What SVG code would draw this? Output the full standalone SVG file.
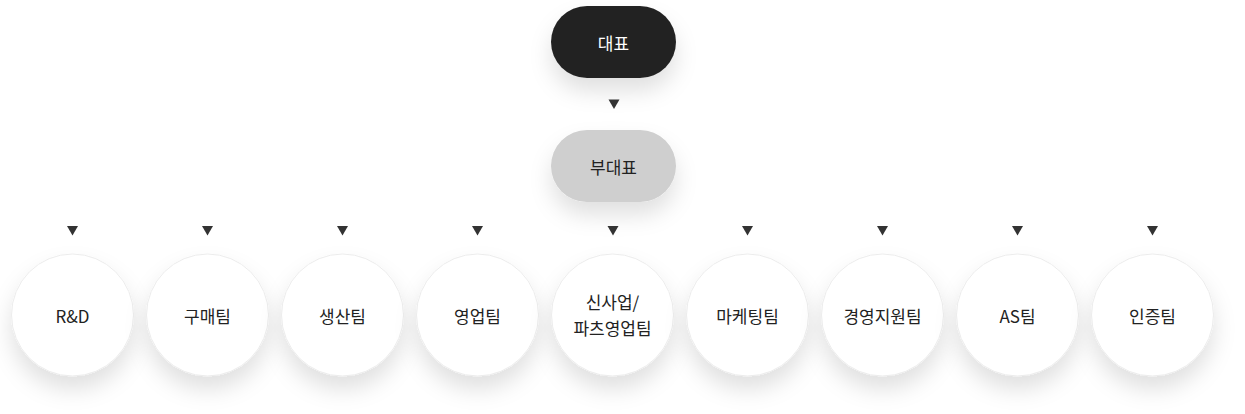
<svg xmlns="http://www.w3.org/2000/svg" width="1245" height="414" viewBox="0 0 1245 414">
<defs>
<filter id="sh" x="-50%" y="-50%" width="200%" height="230%">
<feDropShadow dx="0" dy="13" stdDeviation="11" flood-color="#000" flood-opacity="0.12"/>
</filter>
<style>
text{font-family:"Noto Sans CJK KR","Noto Sans",sans-serif;font-size:17px;font-weight:400;fill:#222;text-anchor:middle;dominant-baseline:central}
.c{fill:#fff;stroke:#ececec;stroke-width:1;filter:url(#sh)}
.a{fill:#333}
</style>
</defs>
<rect width="1245" height="414" fill="#fff"/>
<g id="ceo"><rect x="551" y="6" width="125" height="72" rx="36" fill="#242424" filter="url(#sh)"/><text x="613.5" y="42" style="fill:#fff">대표</text></g>
<g id="vice"><rect x="551" y="130" width="125" height="72" rx="36" fill="#cfcfcf" filter="url(#sh)"/><text x="613.5" y="166">부대표</text></g>
<g id="connectors">
<path class="a" d="M608.5 99.5h11l-5.5 9.5z"/>
<path class="a" d="M67 226h11l-5.5 9.5z"/>
<path class="a" d="M202 226h11l-5.5 9.5z"/>
<path class="a" d="M337 226h11l-5.5 9.5z"/>
<path class="a" d="M472 226h11l-5.5 9.5z"/>
<path class="a" d="M607.5 226h11l-5.5 9.5z"/>
<path class="a" d="M742 226h11l-5.5 9.5z"/>
<path class="a" d="M877 226h11l-5.5 9.5z"/>
<path class="a" d="M1012 226h11l-5.5 9.5z"/>
<path class="a" d="M1147 226h11l-5.5 9.5z"/>
</g>
<g id="rd"><circle class="c" cx="72.5" cy="315" r="61"/><text x="72.5" y="315">R&amp;D</text></g>
<g id="purchase"><circle class="c" cx="207.5" cy="315" r="61"/><text x="207.5" y="315">구매팀</text></g>
<g id="production"><circle class="c" cx="342.5" cy="315" r="61"/><text x="342.5" y="315">생산팀</text></g>
<g id="sales"><circle class="c" cx="477.5" cy="315" r="61"/><text x="477.5" y="315">영업팀</text></g>
<g id="newbiz"><circle class="c" cx="612.5" cy="315" r="61"/><text x="612.5" y="301">신사업/</text><text x="612.5" y="327">파츠영업팀</text></g>
<g id="marketing"><circle class="c" cx="747.5" cy="315" r="61"/><text x="747.5" y="315">마케팅팀</text></g>
<g id="admin"><circle class="c" cx="882.5" cy="315" r="61"/><text x="882.5" y="315">경영지원팀</text></g>
<g id="as"><circle class="c" cx="1017.5" cy="315" r="61"/><text x="1017.5" y="315">AS팀</text></g>
<g id="cert"><circle class="c" cx="1152.5" cy="315" r="61"/><text x="1152.5" y="315">인증팀</text></g>
</svg>
